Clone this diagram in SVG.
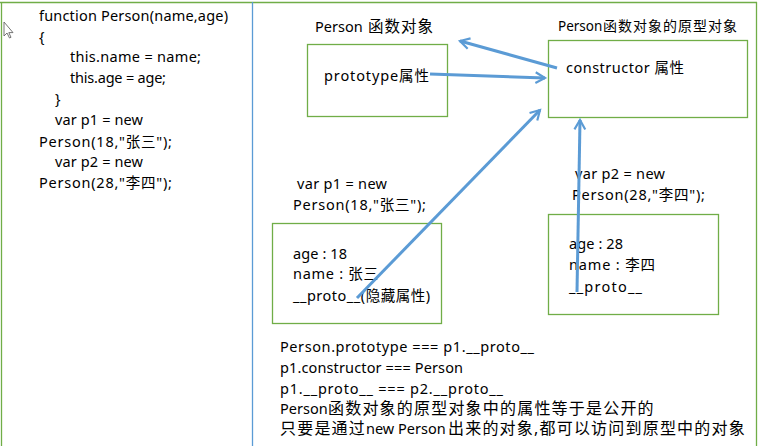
<svg xmlns="http://www.w3.org/2000/svg" width="760" height="446" viewBox="0 0 760 446">
<defs>
<style>
text{font-family:"Noto Sans","Noto Sans CJK SC",sans-serif;font-size:14.5px;fill:#000}
.sm{font-size:13.5px}
.cj{font-size:16px;letter-spacing:1.2px}
.box{fill:none;stroke:#70ad47;stroke-width:1.3}
.arr{fill:none;stroke:#5b9bd5;stroke-width:3;marker-end:url(#ah)}
</style>
<marker id="ah" viewBox="0 0 10 10" refX="8" refY="5" markerWidth="4.5" markerHeight="4.5" orient="auto" markerUnits="strokeWidth">
<path d="M1,1 L8,5 L1,9" fill="none" stroke="#5b9bd5" stroke-width="1.6"/>
</marker>
</defs>
<rect width="760" height="446" fill="#fff"/>
<g id="frame">
<line x1="0" y1="2.5" x2="757" y2="2.5" stroke="#70ad47" stroke-width="1.3"/>
<line x1="1.5" y1="2" x2="1.5" y2="446" stroke="#70ad47" stroke-width="1.3"/>
<line x1="756.5" y1="2" x2="756.5" y2="446" stroke="#70ad47" stroke-width="1.3"/>
<line x1="252.5" y1="2" x2="252.5" y2="446" stroke="#5b9bd5" stroke-width="1.3"/>
<path d="M4,22 L4,36 L7,33 L9.5,38 L11,37.3 L8.8,32.6 L13,32.6 Z" fill="#fff" stroke="#666" stroke-width="0.9"/>
</g>
<g id="code">
<text x="39" y="21" textLength="189" lengthAdjust="spacing">function Person(name,age)</text>
<text x="39" y="42">{</text>
<text x="70" y="62" textLength="131" lengthAdjust="spacing">this.name = name;</text>
<text x="70" y="83" textLength="96" lengthAdjust="spacing">this.age = age;</text>
<text x="55" y="104">}</text>
<text x="55" y="125" textLength="88" lengthAdjust="spacing">var p1 = new</text>
<text x="39" y="147" textLength="133" lengthAdjust="spacing">Person(18,"张三");</text>
<text x="55" y="167" textLength="88" lengthAdjust="spacing">var p2 = new</text>
<text x="39" y="188" textLength="133" lengthAdjust="spacing">Person(28,"李四");</text>
</g>
<g id="person-fn">
<text x="315" y="32">Person <tspan x="368" font-size="15.5" letter-spacing="1">函数对象</tspan></text>
<rect class="box" x="307.5" y="44.5" width="140" height="72"/>
<text x="324" y="81" textLength="105" lengthAdjust="spacing">prototype属性</text>
</g>
<g id="prototype-obj">
<text class="sm" x="558" y="31">Person<tspan x="603" font-size="14" letter-spacing="1">函数对象的原型对象</tspan></text>
<rect class="box" x="548.5" y="40.5" width="199" height="77"/>
<text x="566" y="73" textLength="118" lengthAdjust="spacing">constructor 属性</text>
</g>
<g id="p1">
<text x="297" y="189" textLength="90" lengthAdjust="spacing">var p1 = new</text>
<text x="293" y="210" textLength="133" lengthAdjust="spacing">Person(18,"张三");</text>
<rect class="box" x="272.5" y="223.5" width="169" height="100"/>
<text x="293" y="259" textLength="54" lengthAdjust="spacing">age : 18</text>
<text x="293" y="279" textLength="85" lengthAdjust="spacing">name : 张三</text>
<text x="293" y="301" textLength="137" lengthAdjust="spacing">__proto__(隐藏属性)</text>
</g>
<g id="p2">
<text x="575" y="179" textLength="90" lengthAdjust="spacing">var p2 = new</text>
<text x="572" y="200" textLength="133" lengthAdjust="spacing">Person(28,"李四");</text>
<rect class="box" x="548.5" y="214.5" width="170" height="100"/>
<text x="569" y="249" textLength="54" lengthAdjust="spacing">age : 28</text>
<text x="569" y="270" textLength="86" lengthAdjust="spacing">name : 李四</text>
<text x="569" y="292" textLength="73" lengthAdjust="spacing">__proto__</text>
</g>
<g id="connectors">
<path class="arr" d="M557,68 L460,41"/>
<path class="arr" d="M430,74 L545,78"/>
<path class="arr" d="M357,298 L540,110"/>
<path class="arr" d="M577,292 L580,120"/>
</g>
<g id="notes">
<text x="280" y="352" textLength="254" lengthAdjust="spacing">Person.prototype ===  p1.__proto__</text>
<text x="280" y="373" textLength="183" lengthAdjust="spacing">p1.constructor === Person</text>
<text x="280" y="394" textLength="223" lengthAdjust="spacing">p1.__proto__ === p2.__proto__</text>
<text x="280" y="414">Person<tspan class="cj" x="328">函数对象的原型对象中的属性等于是公开的</tspan></text>
<text x="280" y="434"><tspan class="cj">只要是通过</tspan><tspan x="366">new Person</tspan><tspan class="cj" x="448">出来的对象,都可以访问到原型中的对象</tspan></text>
</g>
</svg>
